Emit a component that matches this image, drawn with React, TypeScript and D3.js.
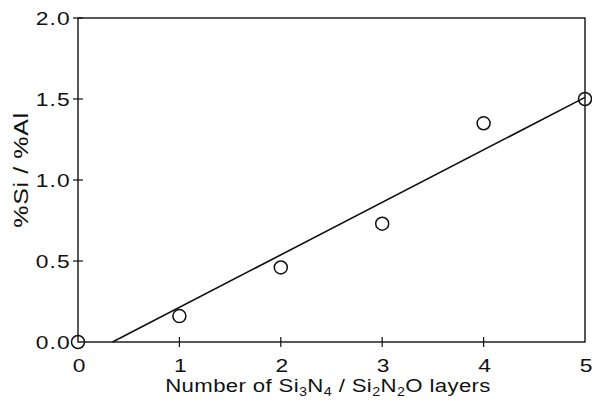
import React, { useRef, useEffect } from "react";
import * as d3 from "d3";

// layers vs Si/Al ratio
const layers = [0, 1, 2, 3, 4, 5];
const ratio = [0.0, 0.16, 0.46, 0.73, 1.35, 1.5];
// fitted line end points
const fitX = [0.34, 5];
const fitY = [0, 1.51];
const xTicks = [0, 1, 2, 3, 4, 5];
const yTicks = [0, 0.5, 1.0, 1.5, 2.0];

const W = 592;
const H = 405;

const App = () => {
  const svgRef = useRef<SVGSVGElement | null>(null);

  useEffect(() => {
    const svg = d3.select(svgRef.current);
    svg.selectAll("*").remove();

    const margin = { top: 18, right: 7, bottom: 63, left: 78 };
    const w = W - margin.left - margin.right;
    const h = H - margin.top - margin.bottom;

    const x = d3.scaleLinear().domain([0, 5]).range([0, w]);
    const y = d3.scaleLinear().domain([0, 2]).range([h, 0]);

    const g = svg.append("g").attr("transform", `translate(${margin.left},${margin.top})`);
    const font = "'Liberation Sans', Arial, sans-serif";
    const stretch = 1.2; // scanned type is wide

    // frame
    g.append("rect")
      .attr("x", 0).attr("y", 0).attr("width", w).attr("height", h)
      .attr("fill", "none").attr("stroke", "#111").attr("stroke-width", 1.4);

    // ticks crossing the axes
    g.append("g").selectAll("line")
      .data(xTicks.slice(1, -1))
      .join("line")
      .attr("x1", d => x(d)).attr("x2", d => x(d))
      .attr("y1", h - 5).attr("y2", h + 5)
      .attr("stroke", "#111").attr("stroke-width", 1.2);

    g.append("g").selectAll("line")
      .data(yTicks.slice(1))
      .join("line")
      .attr("x1", -5).attr("x2", 5)
      .attr("y1", d => y(d)).attr("y2", d => y(d))
      .attr("stroke", "#111").attr("stroke-width", 1.2);

    // tick labels
    g.append("g").selectAll("text")
      .data(xTicks)
      .join("text")
      .attr("transform", d => `translate(${x(d) + 1},${h + 30}) scale(${stretch},1)`)
      .attr("text-anchor", "middle")
      .attr("font-family", font).attr("font-size", 19).attr("fill", "#111")
      .text(d => d3.format("d")(d));

    g.append("g").selectAll("text")
      .data(yTicks)
      .join("text")
      .attr("transform", d => `translate(-7,${y(d) + 7}) scale(${stretch},1)`)
      .attr("text-anchor", "end")
      .attr("letter-spacing", 1)
      .attr("font-family", font).attr("font-size", 19).attr("fill", "#111")
      .text(d => d3.format(".1f")(d));

    // axis titles
    const xt = svg.append("text")
      .attr("transform", `translate(328,${H - 13}) scale(${stretch},1)`)
      .attr("text-anchor", "middle")
      .attr("letter-spacing", 0.3)
      .attr("font-family", font).attr("font-size", 18.5).attr("fill", "#111");
    xt.append("tspan").text("Number of Si");
    xt.append("tspan").attr("font-size", 12).attr("dy", 4).text("3");
    xt.append("tspan").attr("dy", -4).text("N");
    xt.append("tspan").attr("font-size", 12).attr("dy", 4).text("4");
    xt.append("tspan").attr("dy", -4).text(" / Si");
    xt.append("tspan").attr("font-size", 12).attr("dy", 4).text("2");
    xt.append("tspan").attr("dy", -4).text("N");
    xt.append("tspan").attr("font-size", 12).attr("dy", 4).text("2");
    xt.append("tspan").attr("dy", -4).text("O layers");

    svg.append("text")
      .attr("transform", `translate(28,170) rotate(-90) scale(1.25,1)`)
      .attr("text-anchor", "middle")
      .attr("letter-spacing", 0.5)
      .attr("font-family", font).attr("font-size", 20).attr("fill", "#111")
      .text("%Si / %Al");

    // fit line
    const line = d3.line<number>()
      .x(d => x(d))
      .y((d, i) => y(fitY[i]));
    g.append("path")
      .datum(fitX)
      .attr("d", line)
      .attr("fill", "none").attr("stroke", "#111").attr("stroke-width", 1.6);

    // data points
    g.append("g").selectAll("circle")
      .data(layers)
      .join("circle")
      .attr("cx", d => x(d))
      .attr("cy", (d, i) => y(ratio[i]))
      .attr("r", 6.5)
      .attr("fill", "none").attr("stroke", "#111").attr("stroke-width", 1.5);
  }, []);

  return (
    <svg ref={svgRef} width={W} height={H}
      style={{ position: "absolute", left: 0, top: 0, background: "#fff" }} />
  );
};

export default App;
